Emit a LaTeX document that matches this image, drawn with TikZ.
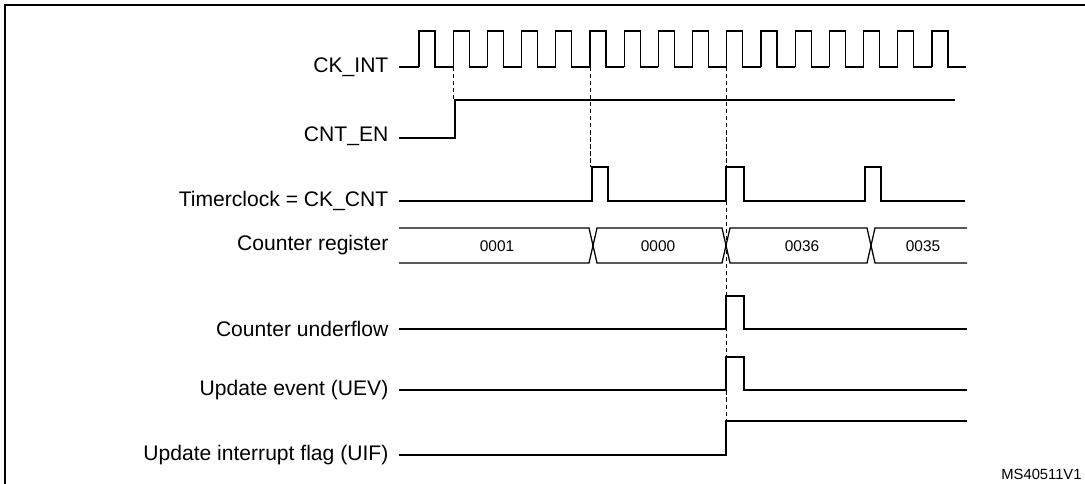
\documentclass[tikz,border=0pt]{standalone}
\usepackage{fontspec}
\setmainfont{Liberation Sans}
\begin{document}
\begin{tikzpicture}[x=0.025cm, y=-0.025cm, line width=0.9pt,
    lbl/.style={anchor=east, inner sep=0pt, font=\fontsize{15}{17}\selectfont},
    val/.style={font=\fontsize{11}{13}\selectfont},
    guide/.style={line width=0.5pt, dash pattern=on 3pt off 2pt}]
		%%%%%%%%%%%%%
		\useasboundingbox (0, 0) rectangle (1085, 483);
		\draw[line width=1.3pt] (5, 485) -- (5, 5) -- (1090, 5);
		%%%%%%%%%%%%%
		\node[lbl] (ck) at (389, 67) {CK\_INT};
		\node[lbl] (en) at (389, 136) {CNT\_EN};
		\node[lbl] (tc) at (389, 201) {Timerclock = CK\_CNT};
		\node[lbl] (cr) at (389, 245) {Counter register};
		\node[lbl] (uf) at (389, 329) {Counter underflow};
		\node[lbl] (ev) at (389, 390) {Update event (UEV)};
		\node[lbl] (fl) at (389, 455) {Update interrupt flag (UIF)};
		\node[anchor=south east, inner sep=2pt, font=\fontsize{10.5}{12}\selectfont] (ms) at (1085, 483) {MS40511V1};
		%%%%%%%%%%%%%
		\draw ([xshift=0.25cm]ck.east) -- (419, 67);
		\foreach \k in {0,...,15}
			\draw ({419+34.2*\k}, 67) -- ({419+34.2*\k}, 31) -- ({435+34.2*\k}, 31) -- ({435+34.2*\k}, 67) -- ({419+34.2*(\k+1)}, 67);
		\draw ([xshift=0.25cm]en.east) ++(0, 2) -| (455, 100) -- (955, 100);
		\draw ([xshift=0.25cm]tc.east) -| (592, 167) -| (608, 201) -| (726, 167) -| (744, 201) -| (865, 167) -| (881, 201) -- (965, 201);
		\draw ([xshift=0.25cm]cr.east) ++(0, -17) -- (589, 228) -- (597, 263) -- (722, 263) -- (730, 228) -- (867, 228) -- (875, 263) -- (967, 263);
		\draw ([xshift=0.25cm]cr.east) ++(0, 18) -- (589, 263) -- (597, 228) -- (722, 228) -- (730, 263) -- (867, 263) -- (875, 228) -- (967, 228);
		\node[val] (v1) at (497, 246) {0001};
		\node[val] (v2) at (658, 246) {0000};
		\node[val] (v3) at (802, 246) {0036};
		\node[val] (v4) at (923, 246) {0035};
		\draw ([xshift=0.25cm]uf.east) -| (726, 296) -| (744, 329) -- (967, 329);
		\draw ([xshift=0.25cm]ev.east) -| (726, 357) -| (744, 390) -- (967, 390);
		\draw ([xshift=0.25cm]fl.east) -| (726, 421) -- (967, 421);
		%%%%%%%%%%%%%
		\draw[guide] (453, 67) -- (453, 100);
		\draw[guide] (590, 67) -- (590, 167);
		\draw[guide] (726, 67) -- (726, 421);
		%%%%%%%%%%%%%%
	\end{tikzpicture}
\end{document}
